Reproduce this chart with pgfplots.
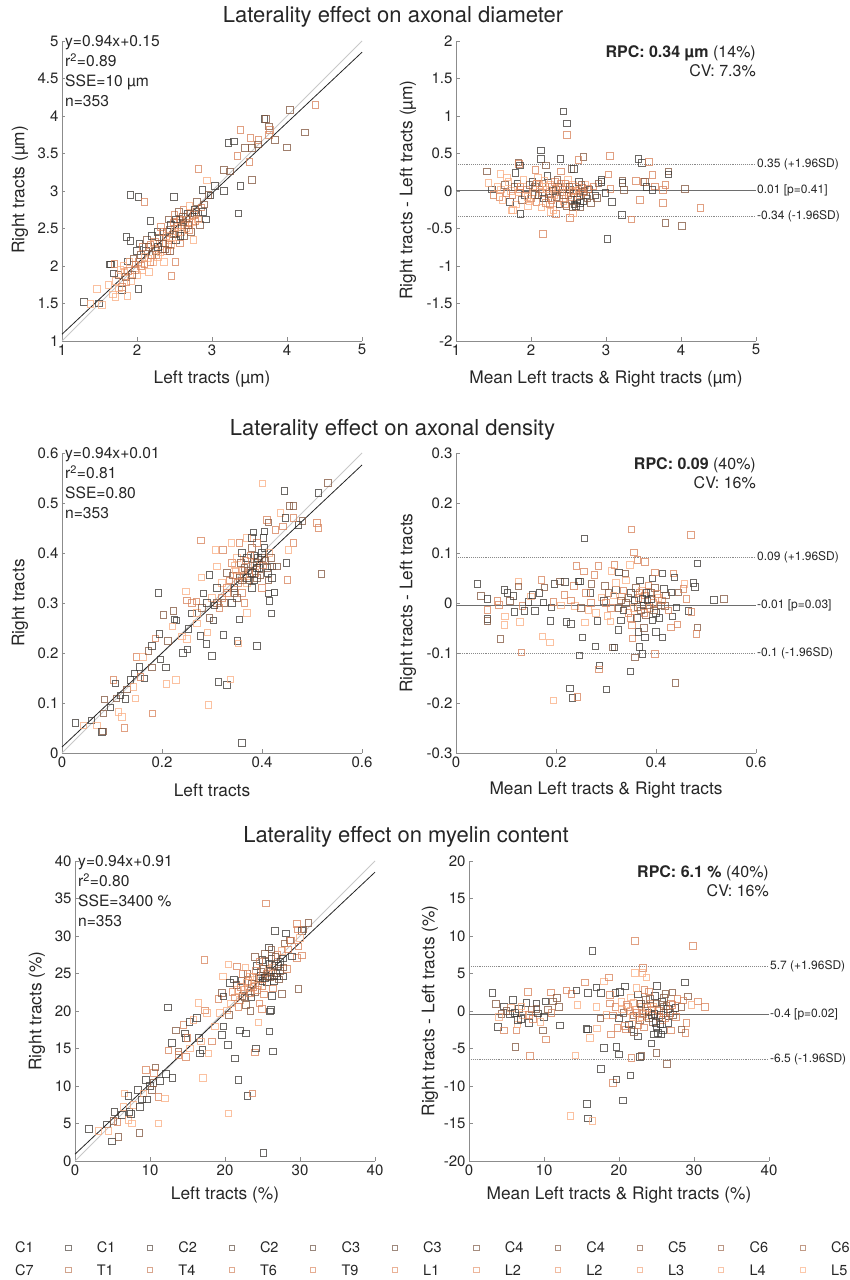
\documentclass[border=0pt]{standalone}
\usepackage{pgfplots}
\pgfplotsset{compat=1.18}
\usepackage{fontspec}
\setmainfont{TeX Gyre Heros}
\definecolor{axc}{HTML}{8C8C8C}
\definecolor{tkc}{HTML}{262626}
\definecolor{idl}{HTML}{C8C8C8}
\definecolor{bal}{HTML}{8A8A8A}
\definecolor{bam}{HTML}{6E6E6E}
\pgfplotsset{
  colormap={lat}{rgb255(0)=(58,54,50) rgb255(0.33)=(128,84,60) rgb255(0.7)=(215,128,88) rgb255(1)=(250,172,128)},
  panel/.style={
    scale only axis, width=300pt, height=300pt, anchor=south west,
    axis lines=left, axis line style={-, draw=axc, line width=0.7pt},
    tick align=inside, major tick length=3.5pt,
    every tick/.style={draw=axc, line width=0.7pt},
    ticklabel style={font=\fontsize{15}{15}\selectfont, text=tkc},
    /pgf/number format/assume math mode=true,
    clip=false,
  },
  pts/.style={scatter, only marks, mark=square, mark size=3.3pt,
    point meta=explicit, point meta min=0, point meta max=1,
    scatter/use mapped color={draw=mapped color, fill=none, draw opacity=0.75},
    mark options={line width=0.9pt}},
}
\tikzset{
  lefttxt/.style={anchor=north west, inner sep=0, align=left, text=tkc,
    font=\fontsize{15.6}{20}\selectfont, xshift=3pt, yshift=5.6pt},
  righttxt/.style={anchor=north east, inner sep=0, align=right, text=tkc,
    font=\fontsize{16}{19}\selectfont, yshift=-4.5pt},
  balab/.style={anchor=west, inner sep=1pt, text=tkc, font=\fontsize{12}{12}\selectfont},
}
\begin{document}
\begin{tikzpicture}
\path[use as bounding box] (0,0) rectangle (850pt,1280pt);

% ---------- row 1: axonal diameter ----------
\begin{axis}[panel, at={(62pt,939pt)}, xmin=1, xmax=5, ymin=1, ymax=5,
  xtick={1,2,3,4,5}, ytick={1,1.5,2,2.5,3,3.5,4,4.5,5}]
\addplot[pts] table[row sep=\\, meta=c] {x y c\\
1.29 1.52 0\\ 1.91 2.95 0\\ 2.02 2.92 0\\ 2.10 2.85 0.7\\ 1.86 2.39 0\\ 1.91 2.33 0\\
2.18 2.60 0\\ 1.87 2.06 0\\ 2.02 1.69 0\\ 2.46 1.87 0.7\\ 1.47 1.69 1\\ 1.38 1.49 1\\
1.49 1.50 0\\ 1.53 1.48 1\\ 1.64 2.02 0\\ 1.69 1.90 0\\ 1.80 1.68 0\\ 1.87 1.60 1\\
1.71 1.59 1\\ 2.82 3.29 0.7\\ 2.93 3.14 1\\ 3.04 3.07 0\\ 2.87 3.01 0\\ 2.98 2.94 0\\
2.49 2.92 0\\ 3.16 3.28 0.33\\ 3.24 3.26 0.33\\ 3.16 3.00 0\\ 3.22 3.64 0\\ 3.29 3.66 0\\
3.38 3.81 0.7\\ 3.34 3.47 0.7\\ 3.38 3.07 0\\ 3.35 2.70 0\\ 3.44 3.57 0.33\\ 3.51 3.71 0.7\\
3.50 3.39 0.7\\ 3.53 3.15 0.33\\ 3.53 3.57 0.33\\ 3.62 3.68 0.7\\ 3.61 3.62 0.33\\ 3.70 3.96 0\\
3.72 3.96 0.33\\ 3.76 3.86 0.33\\ 3.77 3.81 0.7\\ 3.76 3.75 0.7\\ 3.84 3.68 0.33\\ 4.00 3.58 0.33\\
4.04 4.08 0.33\\ 4.24 3.78 0.33\\ 4.38 4.15 0.7\\ 2.51 2.05 0.7\\
1.62 1.75 1\\ 1.65 2.02 0\\ 1.68 1.62 1\\ 1.70 2.03 0.7\\ 1.72 1.80 1\\ 1.75 1.88 0.33\\
1.78 1.95 1\\ 1.80 1.72 0.7\\ 1.82 2.00 1\\ 1.85 1.85 0.33\\ 1.88 1.93 0.7\\ 1.90 2.05 1\\
1.92 1.80 1\\ 1.95 2.10 0.33\\ 1.97 1.95 0.7\\ 2.00 2.20 0\\ 2.00 1.88 1\\ 2.02 2.05 0.7\\
2.03 2.30 0\\ 2.05 2.15 0.33\\ 2.07 1.95 1\\ 2.08 2.25 0.7\\ 2.10 2.02 0.7\\ 2.12 2.20 0\\
2.13 2.35 0.33\\ 2.15 2.10 1\\ 2.16 1.92 1\\ 2.18 2.28 0.7\\ 2.20 2.40 0\\ 2.20 2.15 0.33\\
2.22 2.05 1\\ 2.24 2.32 0.7\\ 2.25 2.20 0.33\\ 2.27 2.45 0\\ 2.28 2.12 1\\ 2.30 2.30 0.7\\
2.32 2.52 0.7\\ 2.33 2.22 0.33\\ 2.35 2.38 0\\ 2.36 2.05 1\\ 2.38 2.30 1\\ 2.40 2.45 0.33\\
2.40 2.20 0.7\\ 2.42 2.62 0.33\\ 2.43 2.35 0.7\\ 2.45 2.55 0\\ 2.46 2.28 1\\ 2.48 2.42 0.33\\
2.50 2.68 0.7\\ 2.50 2.50 1\\ 2.52 2.35 0\\ 2.53 2.58 0.33\\ 2.55 2.45 0.7\\ 2.56 2.72 0.33\\
2.57 2.30 0.7\\ 2.58 2.60 1\\ 2.60 2.52 0\\ 2.62 2.75 0.7\\ 2.63 2.40 0.33\\ 2.65 2.62 0.33\\
2.66 2.50 1\\ 2.68 2.70 0\\ 2.70 2.58 0.7\\ 2.70 2.80 1\\ 2.72 2.45 0.33\\ 2.74 2.66 0.33\\
2.75 2.35 1\\ 2.77 2.75 0\\ 2.78 2.60 0.7\\ 2.80 2.85 0.33\\ 2.82 2.70 0\\ 2.84 2.55 0.33\\
2.86 2.78 0.7\\ 2.88 2.72 0\\ 2.90 2.82 0.33\\ 2.92 2.62 0\\ 2.95 2.95 0.33\\
2.05 2.00 0.7\\ 2.10 2.12 1\\ 2.15 2.25 0.33\\ 2.18 2.05 0.7\\ 2.22 2.30 1\\ 2.26 2.15 0.7\\
2.29 2.38 0.33\\ 2.31 2.18 1\\ 2.34 2.45 0.7\\ 2.37 2.22 0.33\\ 2.39 2.40 1\\ 2.42 2.28 0.7\\
2.44 2.48 0.33\\ 2.47 2.38 1\\ 2.49 2.58 0.7\\ 2.51 2.42 0.33\\ 2.54 2.52 1\\ 2.57 2.62 0.7\\
2.59 2.45 1\\ 2.61 2.65 0.33\\ 2.64 2.55 0.7\\ 2.67 2.62 1\\ 2.69 2.48 0.7\\ 2.71 2.70 0.33\\
2.73 2.58 1\\ 2.76 2.68 0.7\\ 2.79 2.72 0.33\\ 2.81 2.62 1\\ 2.52 2.62 0\\ 2.58 2.40 0\\
2.44 2.20 0.33\\ 2.35 2.30 0.33\\ 2.28 2.25 0\\ 2.62 2.58 0.33\\ 2.68 2.55 0.33\\ 1.98 2.02 0.7\\
1.93 1.88 0.33\\ 1.86 1.78 0.7\\ 1.76 1.70 1\\ 1.83 1.92 1\\
};
\addplot[idl, line width=0.8pt] coordinates {(1,1) (5,5)};
\addplot[tkc, line width=0.8pt] coordinates {(1,1.09) (5,4.85)};
\node[lefttxt] at (rel axis cs:0,1) {y=0.94x+0.15\\r\textsuperscript{2}=0.89\\SSE=10 µm\\n=353};
\end{axis}

\begin{axis}[panel, at={(456pt,939pt)}, xmin=1, xmax=5, ymin=-2, ymax=2,
  xtick={1,2,3,4,5}, ytick={-2,-1.5,-1,-0.5,0,0.5,1,1.5,2}]
\addplot[pts] table[row sep=\\, meta=c] {x y c\\
2.43 1.06 0\\ 2.48 0.90 0\\ 2.48 0.75 0.7\\ 2.13 0.54 0\\ 2.13 0.43 0\\ 2.39 0.43 0\\
2.70 0.45 0.33\\ 2.63 0.41 0.7\\ 3.05 0.47 0.7\\ 3.43 0.43 0\\ 3.48 0.37 0\\ 3.57 0.39 0.7\\
1.83 0.38 0.33\\ 1.84 0.36 0.7\\ 1.85 0.34 0\\ 1.41 0.26 0.33\\ 1.59 0.23 1\\ 1.79 0.24 0\\
2.20 0.34 0.33\\ 2.54 0.29 0.33\\ 2.57 0.29 0\\ 2.40 0.26 0.7\\ 3.03 0.22 0.7\\ 2.94 0.15 0\\
2.94 0.12 0\\ 3.22 0.14 0.33\\ 3.22 0.11 0\\ 3.40 0.13 0.7\\ 3.50 0.12 0.7\\ 3.52 0.12 0.33\\
3.62 0.21 0.7\\ 3.65 0.06 0.7\\ 3.54 0.05 0\\ 3.62 0.01 0\\ 3.76 0.01 0.7\\ 3.79 0.08 0.7\\
3.83 0.26 0.33\\ 3.83 0.22 0\\ 4.05 0.03 0.33\\ 3.24 0.01 0.33\\ 3.06 0.03 0.7\\ 2.99 -0.03 0\\
3.08 -0.15 0\\ 2.88 -0.09 0.33\\ 3.21 -0.32 0\\ 3.34 -0.38 0.7\\ 3.45 -0.12 0.7\\ 3.76 -0.16 0.7\\
3.79 -0.43 0.33\\ 4.01 -0.47 0.33\\ 4.26 -0.23 0.7\\ 3.02 -0.64 0\\ 2.16 -0.57 0.7\\ 1.86 -0.31 0\\
2.33 -0.31 0.7\\ 2.52 -0.36 0.7\\ 2.56 -0.30 1\\ 1.74 -0.26 1\\ 1.48 0.02 0\\ 1.50 -0.05 0.7\\
1.43 0.11 1\\
1.55 0.05 1\\ 1.58 -0.08 0.7\\ 1.60 0.02 1\\ 1.62 -0.12 1\\ 1.65 0.08 0.33\\ 1.67 -0.03 0.7\\
1.70 0.12 1\\ 1.72 -0.15 0\\ 1.73 0.00 1\\ 1.75 -0.06 0.7\\ 1.78 0.05 0.33\\ 1.80 -0.18 1\\
1.82 0.10 0\\ 1.84 -0.02 1\\ 1.86 0.06 0.7\\ 1.88 -0.12 0.33\\ 1.90 0.15 1\\ 1.92 -0.05 0\\
1.94 0.02 0.7\\ 1.96 -0.20 1\\ 1.98 0.08 0.33\\ 2.00 -0.10 0.7\\ 2.02 0.12 0\\ 2.03 -0.02 1\\
2.05 0.05 0.33\\ 2.07 -0.15 0.7\\ 2.09 0.18 1\\ 2.10 -0.06 0\\ 2.12 0.02 0.7\\ 2.14 -0.22 1\\
2.15 0.10 0.33\\ 2.17 -0.10 0\\ 2.19 0.05 1\\ 2.20 -0.16 0.7\\ 2.22 0.20 0\\ 2.24 -0.04 0.33\\
2.25 0.08 1\\ 2.27 -0.12 0.7\\ 2.29 0.00 0\\ 2.30 -0.25 1\\ 2.32 0.12 0.7\\ 2.34 -0.08 0.33\\
2.36 0.04 1\\ 2.38 -0.18 0\\ 2.40 0.10 0.7\\ 2.41 -0.02 0.33\\ 2.43 -0.14 1\\ 2.45 0.06 0\\
2.47 -0.20 0.33\\ 2.49 0.15 1\\ 2.50 -0.06 0.7\\ 2.52 0.02 0\\ 2.54 -0.12 0.33\\ 2.56 0.08 1\\
2.58 -0.18 0\\ 2.60 0.00 0.7\\ 2.62 -0.08 0.33\\ 2.64 0.12 0\\ 2.66 -0.22 0.33\\ 2.68 0.04 0.7\\
2.70 -0.14 0\\ 2.72 0.08 1\\ 2.75 -0.10 0.33\\ 2.78 0.02 0\\ 2.80 -0.16 0.33\\ 2.83 0.06 0.7\\
2.86 -0.06 0\\ 2.90 0.10 0.33\\ 1.68 0.18 1\\ 1.76 -0.25 1\\ 2.06 0.28 0.7\\ 2.26 -0.28 1\\
1.85 0.02 0.7\\ 1.95 -0.08 1\\ 2.05 -0.05 0.33\\ 2.11 0.08 1\\ 2.16 -0.03 0.7\\ 2.21 0.02 1\\
2.23 -0.09 0.33\\ 2.28 0.05 0.7\\ 2.31 -0.05 1\\ 2.33 0.02 0.33\\ 2.37 -0.10 0.7\\ 2.39 0.06 1\\
2.42 0.02 0.7\\ 2.44 -0.06 0.33\\ 2.46 0.10 0.7\\ 2.48 -0.02 1\\ 2.51 0.05 0.33\\ 2.53 -0.08 0.7\\
2.55 0.00 1\\ 2.57 -0.03 0.33\\ 2.59 0.06 0.7\\ 2.61 -0.12 0\\ 2.63 0.02 1\\ 2.65 -0.05 0.7\\
2.67 0.08 0.33\\ 2.69 -0.02 0.7\\ 2.71 0.00 0.33\\ 2.73 -0.06 0\\ 2.76 0.03 0.7\\ 2.60 -0.20 0\\
2.65 -0.16 0\\ 2.55 -0.22 0.33\\ 2.45 -0.18 0.7\\ 2.35 0.15 0.33\\ 2.25 -0.18 0.7\\ 2.18 0.14 1\\
2.08 0.10 0.7\\ 1.98 -0.14 1\\
};
\addplot[bal, densely dotted, line width=0.9pt] coordinates {(1,0.35) (5,0.35)};
\addplot[bam, line width=0.9pt] coordinates {(1,0.01) (5,0.01)};
\addplot[bal, densely dotted, line width=0.9pt] coordinates {(1,-0.34) (5,-0.34)};
\node[balab] at (axis cs:5,0.35) {0.35 (+1.96SD)};
\node[balab] at (axis cs:5,0.01) {0.01 [p=0.41]};
\node[balab] at (axis cs:5,-0.34) {-0.34 (-1.96SD)};
\node[righttxt] at (rel axis cs:1,1) {\textbf{RPC: 0.34 µm} (14\%)\\CV: 7.3\%};
\end{axis}

% ---------- row 2: axonal density ----------
\begin{axis}[panel, at={(62pt,527pt)}, xmin=0, xmax=0.6, ymin=0, ymax=0.6,
  xtick={0,0.2,0.4,0.6}, ytick={0,0.1,0.2,0.3,0.4,0.5,0.6}]
\addplot[pts] table[row sep=\\, meta=c] {x y c\\
0.027 0.060 0\\ 0.043 0.055 1\\ 0.059 0.065 0\\ 0.070 0.055 1\\ 0.080 0.042 0\\ 0.082 0.043 0.33\\
0.083 0.079 0.33\\ 0.085 0.107 0.33\\ 0.097 0.091 0\\ 0.103 0.146 0.7\\ 0.107 0.139 0\\ 0.113 0.082 1\\
0.120 0.072 1\\ 0.125 0.050 0.7\\ 0.109 0.109 0.33\\ 0.117 0.115 0\\ 0.127 0.108 0\\ 0.130 0.127 0.33\\
0.137 0.146 0\\ 0.143 0.132 1\\ 0.147 0.109 1\\ 0.149 0.192 0.7\\ 0.145 0.159 0\\ 0.155 0.172 0\\
0.162 0.192 1\\ 0.165 0.149 0\\ 0.157 0.152 0.7\\ 0.173 0.204 0.33\\ 0.180 0.214 0\\ 0.181 0.079 0.7\\
0.180 0.171 0.33\\ 0.187 0.229 0.7\\ 0.193 0.320 0\\ 0.197 0.187 0\\ 0.195 0.238 0\\ 0.203 0.276 0.33\\
0.208 0.171 0\\ 0.209 0.138 1\\ 0.212 0.224 0.33\\ 0.228 0.146 1\\ 0.223 0.284 0.33\\ 0.225 0.267 0\\
0.229 0.265 0\\ 0.221 0.253 1\\ 0.240 0.233 1\\ 0.242 0.200 0\\ 0.250 0.228 1\\ 0.251 0.207 0\\
0.253 0.248 0\\ 0.248 0.323 1\\ 0.250 0.305 0.7\\ 0.260 0.279 0\\ 0.269 0.303 0.7\\ 0.270 0.259 1\\
0.277 0.234 0\\ 0.278 0.425 0.7\\ 0.279 0.351 1\\ 0.283 0.319 0\\ 0.291 0.241 1\\ 0.289 0.218 0\\
0.293 0.096 1\\ 0.295 0.356 0\\ 0.300 0.194 0\\ 0.303 0.265 0\\ 0.307 0.406 1\\ 0.310 0.373 1\\
0.313 0.142 0\\ 0.322 0.406 0.7\\ 0.323 0.236 0\\ 0.330 0.136 0\\ 0.337 0.147 1\\ 0.339 0.420 1\\
0.351 0.224 0\\ 0.353 0.219 1\\ 0.355 0.267 0\\ 0.360 0.020 0\\ 0.390 0.214 0\\ 0.401 0.539 1\\
0.445 0.524 0\\ 0.455 0.494 0.33\\ 0.463 0.494 0.33\\ 0.513 0.520 0\\ 0.532 0.540 0.33\\ 0.510 0.460 0.7\\
0.513 0.450 0.7\\ 0.519 0.358 0.33\\ 0.481 0.464 0.33\\ 0.473 0.456 0\\ 0.463 0.470 0.7\\ 0.451 0.346 0.7\\
0.449 0.380 0\\ 0.463 0.420 0.7\\ 0.453 0.406 1\\ 0.413 0.319 0\\ 0.415 0.304 0\\ 0.419 0.279 0\\
0.425 0.321 0\\ 0.410 0.466 0.7\\ 0.413 0.461 0.33\\ 0.427 0.446 0.7\\ 0.442 0.453 0.7\\ 0.437 0.480 1\\
0.447 0.470 0\\ 0.405 0.443 0\\ 0.403 0.430 0\\ 0.383 0.441 0\\ 0.370 0.430 1\\ 0.413 0.345 0.33\\
0.420 0.373 0\\ 0.430 0.373 0.33\\
0.33 0.36 0.33\\ 0.34 0.38 0.7\\ 0.345 0.33 0\\ 0.35 0.39 1\\ 0.355 0.35 0.33\\ 0.36 0.40 0\\
0.36 0.32 0.7\\ 0.365 0.37 0.33\\ 0.37 0.34 1\\ 0.37 0.39 0\\ 0.375 0.36 0.7\\ 0.38 0.41 0.33\\
0.38 0.33 0\\ 0.385 0.38 1\\ 0.39 0.35 0.33\\ 0.39 0.42 0.7\\ 0.395 0.37 0\\ 0.40 0.39 0.33\\
0.40 0.33 0.7\\ 0.405 0.41 0\\ 0.41 0.37 0.33\\ 0.415 0.40 1\\ 0.42 0.35 0\\ 0.35 0.31 0.33\\
0.34 0.30 0\\ 0.33 0.32 0.7\\ 0.32 0.34 1\\ 0.325 0.30 0.33\\ 0.31 0.33 0\\ 0.315 0.29 0.7\\
0.30 0.31 1\\ 0.295 0.27 0.33\\ 0.305 0.295 0\\ 0.36 0.365 0.7\\ 0.375 0.345 0.33\\ 0.385 0.395 0\\
0.345 0.375 1\\ 0.355 0.42 0.7\\ 0.39 0.38 0.33\\ 0.365 0.30 0.7\\ 0.38 0.43 0\\ 0.37 0.28 1\\
0.26 0.30 0.7\\ 0.27 0.28 1\\ 0.28 0.29 0.33\\ 0.29 0.30 0\\
0.335 0.345 0.7\\ 0.342 0.355 0.33\\ 0.348 0.365 1\\ 0.352 0.34 0.7\\ 0.358 0.38 0.33\\ 0.363 0.355 1\\
0.367 0.385 0.7\\ 0.372 0.365 0.33\\ 0.377 0.395 0.7\\ 0.382 0.375 0.33\\ 0.387 0.36 0.7\\ 0.392 0.39 0\\
0.397 0.355 0.33\\ 0.402 0.375 0.7\\ 0.407 0.385 0.33\\ 0.412 0.36 0\\ 0.418 0.39 0.33\\ 0.37 0.35 0\\
0.38 0.36 0\\ 0.39 0.37 0\\ 0.36 0.345 0.33\\ 0.35 0.355 0.7\\ 0.345 0.32 0.33\\ 0.33 0.33 0.7\\
0.32 0.31 0.7\\ 0.31 0.30 0.33\\ 0.40 0.40 0\\ 0.385 0.345 0\\
};
\addplot[idl, line width=0.8pt] coordinates {(0,0) (0.6,0.6)};
\addplot[tkc, line width=0.8pt] coordinates {(0,0.012) (0.6,0.576)};
\node[lefttxt] at (rel axis cs:0,1) {y=0.94x+0.01\\r\textsuperscript{2}=0.81\\SSE=0.80\\n=353};
\end{axis}

\begin{axis}[panel, at={(456pt,527pt)}, xmin=0, xmax=0.6, ymin=-0.3, ymax=0.3,
  xtick={0,0.2,0.4,0.6}, ytick={-0.3,-0.2,-0.1,0,0.1,0.2,0.3}]
\addplot[pts] table[row sep=\\, meta=c] {x y c\\
0.043 0.038 0\\ 0.050 0.014 0.33\\ 0.063 0.008 0\\ 0.063 -0.014 0.7\\ 0.063 -0.032 0\\ 0.063 -0.036 0.33\\
0.083 0.004 0.7\\ 0.086 -0.004 0.7\\ 0.089 -0.072 0.33\\ 0.097 0.026 0\\ 0.098 -0.027 1\\ 0.097 -0.044 1\\
0.103 0.020 0\\ 0.108 0.004 0.33\\ 0.115 0.014 0\\ 0.117 -0.018 0\\ 0.125 0.043 1\\ 0.125 0.033 0.33\\
0.128 -0.038 1\\ 0.131 -0.099 0.7\\ 0.133 -0.006 0.7\\ 0.137 -0.016 0\\ 0.145 0.002 0\\ 0.150 0.013 1\\
0.153 0.016 0\\ 0.158 -0.016 0\\ 0.167 0.020 0\\ 0.171 0.046 0.7\\ 0.173 -0.067 1\\ 0.175 0.001 0\\
0.177 0.031 0.33\\ 0.188 -0.079 1\\ 0.189 -0.036 0\\ 0.191 -0.009 0\\ 0.195 0.002 0.7\\ 0.197 0.038 0\\
0.195 -0.195 1\\ 0.208 0.043 0.33\\ 0.218 0.042 0\\ 0.217 0.016 0.7\\ 0.221 -0.038 0\\ 0.230 -0.042 0\\
0.228 -0.171 0\\ 0.233 -0.190 0\\ 0.241 0.074 0.7\\ 0.236 0.034 0.7\\ 0.238 -0.006 1\\ 0.245 0.043 0\\
0.248 0.043 0\\ 0.243 -0.188 0.7\\ 0.247 -0.105 0\\ 0.253 -0.069 0\\ 0.256 0.063 0.7\\ 0.257 0.129 0\\
0.258 -0.039 1\\ 0.265 -0.014 1\\ 0.269 0.020 0\\ 0.271 0.038 0.33\\ 0.277 0.056 0.7\\ 0.279 -0.087 0\\
0.283 -0.036 0\\ 0.285 0.074 0.7\\ 0.287 -0.125 0\\ 0.286 -0.133 0.7\\ 0.291 0.011 1\\ 0.296 0.004 0\\
0.298 0.034 0.33\\ 0.301 -0.173 0\\ 0.303 -0.026 1\\ 0.309 -0.037 1\\ 0.311 0.064 1\\ 0.313 -0.089 0.33\\
0.317 -0.089 0\\ 0.317 0.076 0.7\\ 0.320 0.026 0\\ 0.326 0.061 0\\ 0.325 -0.054 0\\ 0.331 0.013 1\\
0.339 0.059 0.33\\ 0.348 0.076 1\\ 0.349 -0.137 0\\ 0.351 0.147 0.7\\ 0.353 -0.071 0.7\\ 0.356 0.101 0.7\\
0.358 -0.109 0.33\\ 0.363 0.086 0.7\\ 0.365 -0.058 0\\ 0.367 -0.088 0\\ 0.373 -0.102 0\\ 0.378 0.082 0.7\\
0.378 -0.069 0\\ 0.393 0.049 0\\ 0.398 0.061 0.7\\ 0.398 -0.102 0.7\\ 0.400 -0.058 0\\ 0.413 0.059 0\\
0.413 -0.069 0\\ 0.416 0.028 0\\ 0.418 -0.006 0.33\\ 0.430 -0.049 0.7\\ 0.433 -0.027 0\\ 0.435 0.059 0.7\\
0.437 0.051 0\\ 0.439 -0.160 0.33\\ 0.443 -0.043 0.7\\ 0.441 -0.009 0\\ 0.445 0.021 0.33\\ 0.457 0.038 1\\
0.461 0.008 0.7\\ 0.465 -0.016 0\\ 0.470 0.136 0.7\\ 0.471 -0.018 0.7\\ 0.475 0.040 0\\ 0.478 0.032 0\\
0.483 0.079 0\\ 0.483 -0.049 0.33\\ 0.481 -0.062 0.7\\ 0.516 0.006 0\\ 0.536 0.008 0.33\\ 0.455 0.028 0.7\\
0.431 0.021 0\\
0.34 0.00 0.33\\ 0.345 -0.02 0.7\\ 0.35 0.02 0\\ 0.355 -0.01 1\\ 0.36 0.03 0.33\\ 0.362 -0.03 0\\
0.365 0.01 0.7\\ 0.37 -0.015 0.33\\ 0.372 0.025 1\\ 0.375 -0.005 0\\ 0.378 0.015 0.7\\ 0.38 -0.025 0.33\\
0.383 0.005 0\\ 0.385 0.035 0.7\\ 0.388 -0.01 1\\ 0.39 0.02 0.33\\ 0.393 -0.035 0\\ 0.395 0.00 0.7\\
0.398 0.03 0.33\\ 0.40 -0.02 0\\ 0.405 0.01 1\\ 0.41 -0.005 0.33\\ 0.335 0.025 0.7\\ 0.33 -0.035 0\\
0.325 -0.01 0.33\\ 0.34 0.045 1\\ 0.352 -0.045 0.7\\ 0.368 0.045 0\\ 0.376 -0.05 0.33\\ 0.32 0.04 1\\
0.30 0.00 0.7\\ 0.305 0.02 0.33\\ 0.31 -0.01 0.7\\ 0.315 0.015 1\\ 0.33 0.005 0.33\\ 0.335 -0.015 0\\
0.345 0.01 0.33\\ 0.35 -0.03 0.7\\ 0.357 0.005 0\\ 0.363 -0.008 0.33\\ 0.367 0.02 0.7\\ 0.373 0.008 0\\
0.377 -0.02 0.7\\ 0.381 0.02 0\\ 0.386 -0.005 0.33\\ 0.391 0.008 0\\ 0.396 -0.015 0.33\\ 0.402 0.018 0.7\\
0.407 -0.03 0\\ 0.412 0.005 0.7\\ 0.42 0.015 0.33\\ 0.425 -0.015 0.7\\ 0.27 0.00 0.7\\ 0.28 -0.02 1\\
0.26 0.02 0.7\\ 0.25 -0.01 0.33\\ 0.23 0.005 0.7\\ 0.21 -0.005 1\\
};
\addplot[bal, densely dotted, line width=0.9pt] coordinates {(0,0.092) (0.6,0.092)};
\addplot[bam, line width=0.9pt] coordinates {(0,-0.004) (0.6,-0.004)};
\addplot[bal, densely dotted, line width=0.9pt] coordinates {(0,-0.100) (0.6,-0.100)};
\node[balab] at (axis cs:0.6,0.092) {0.09 (+1.96SD)};
\node[balab] at (axis cs:0.6,-0.004) {-0.01 [p=0.03]};
\node[balab] at (axis cs:0.6,-0.100) {-0.1 (-1.96SD)};
\node[righttxt] at (rel axis cs:1,1) {\textbf{RPC: 0.09} (40\%)\\CV: 16\%};
\end{axis}

% ---------- row 3: myelin content ----------
\begin{axis}[panel, at={(75pt,119pt)}, xmin=0, xmax=40, ymin=0, ymax=40,
  xtick={0,10,20,30,40}, ytick={0,5,10,15,20,25,30,35,40}]
\addplot[pts] table[row sep=\\, meta=c] {x y c\\
1.87 4.24 0\\ 3.11 3.97 1\\ 4.22 4.86 0\\ 4.44 3.97 1\\ 4.89 2.63 0\\ 5.11 5.31 0.33\\
5.24 6.56 0\\ 5.64 5.22 0.7\\ 5.78 3.21 0.33\\ 6.22 6.11 0\\ 6.44 7.22 1\\ 6.58 9.01 1\\
7.11 8.65 0\\ 7.24 6.56 0\\ 7.11 5.44 1\\ 7.47 6.24 0\\ 7.56 4.99 1\\ 7.78 7.45 1\\
8.36 9.45 0\\ 8.58 3.75 0.33\\ 8.67 7.22 0\\ 8.89 8.20 0\\ 9.11 9.01 1\\ 9.47 10.79 0\\
9.47 12.13 0.7\\ 9.56 8.20 0\\ 10.00 9.99 0\\ 10.22 9.45 0.33\\ 10.44 10.43 0.33\\ 10.53 11.77 0.7\\
10.71 12.49 0.33\\ 11.11 8.56 0.7\\ 11.11 4.99 1\\ 11.33 10.70 0\\ 12.00 8.34 1\\ 12.13 11.59 0\\
12.36 20.47 0\\ 12.44 14.72 0.7\\ 12.89 15.70 0\\ 12.98 11.10 0\\ 13.42 17.39 0.33\\ 13.78 14.58 0.33\\
13.78 14.14 0.7\\ 14.67 17.03 0\\ 14.44 18.15 0.7\\ 14.76 16.37 0\\ 14.80 13.91 0.7\\ 14.98 16.37 0.7\\
15.24 18.51 0\\ 15.33 15.03 1\\ 15.78 18.82 1\\ 16.22 19.04 0\\ 16.44 21.05 1\\ 16.53 16.37 0\\
16.67 14.36 0\\ 16.80 15.92 1\\ 16.98 14.80 0\\ 17.02 11.10 1\\ 17.24 26.84 0.7\\ 17.33 20.07 0.7\\
17.56 19.71 1\\ 17.78 14.36 1\\ 18.22 15.92 0.7\\ 18.67 17.93 1\\ 19.11 21.58 0.7\\ 19.33 19.71 1\\
19.56 16.81 0\\ 19.78 17.93 0\\ 20.22 20.07 1\\ 20.36 15.47 0\\ 20.44 6.33 1\\ 19.69 24.61 1\\
19.56 22.39 0.33\\ 19.78 21.94 0\\ 20.44 26.18 1\\ 20.67 23.72 0\\ 21.33 13.69 0\\ 21.56 25.95 0.7\\
21.78 10.79 0\\ 22.00 17.39 0\\ 22.80 17.03 0\\ 22.98 8.65 0\\ 23.64 9.01 0.7\\ 24.00 14.45 0.7\\
24.13 15.03 0\\ 24.44 18.46 1\\ 25.11 1.07 0\\ 25.42 34.34 0.7\\ 25.91 17.26 0\\ 26.36 14.58 0\\
26.00 19.93 0\\ 26.09 20.16 0\\ 26.22 22.03 0\\ 26.67 30.64 0\\ 28.13 30.32 0\\ 29.56 31.62 0.7\\
29.78 22.92 0.33\\ 30.22 30.64 0\\ 30.44 30.86 0.33\\ 31.11 31.75 0.33\\ 29.69 30.86 0.7\\ 29.56 27.07 0.7\\
30.22 27.38 0.7\\ 29.78 28.63 0.7\\ 30.00 29.74 1\\ 28.67 29.43 0.33\\ 28.22 25.60 0.7\\ 27.56 22.30 0.33\\
27.78 24.61 0\\ 26.89 24.61 0\\ 26.53 23.95 0\\ 28.89 27.29 0\\ 25.87 28.49 0\\
21.0 22.5 0.7\\ 21.5 23.5 0.33\\ 22.0 21.5 1\\ 22.2 24.0 0\\ 22.5 22.8 0.7\\ 22.8 20.8 0.33\\
23.0 25.0 0.33\\ 23.2 23.0 1\\ 23.5 21.8 0\\ 23.7 24.5 0.7\\ 24.0 22.5 0.33\\ 24.2 26.0 0\\
24.4 23.5 1\\ 24.6 21.0 0.7\\ 24.8 25.2 0.33\\ 25.0 24.0 0\\ 25.2 22.2 0.7\\ 25.4 26.5 0.33\\
25.6 23.8 0\\ 25.8 25.5 1\\ 26.0 24.5 0.33\\ 26.2 27.0 0\\ 26.4 23.0 0.7\\ 26.6 26.0 0.33\\
26.8 25.0 0\\ 27.0 27.5 0.7\\ 27.2 24.2 0.33\\ 27.4 26.5 0\\ 27.6 28.0 1\\ 27.8 25.8 0.33\\
22.3 22.0 0.33\\ 23.8 23.2 0.7\\ 24.7 24.7 0\\ 25.5 25.0 0.7\\ 24.0 27.2 0.33\\ 25.0 26.8 0\\
21.8 20.5 0.7\\ 20.8 21.0 1\\ 21.2 24.2 0\\ 22.7 25.8 1\\ 23.4 20.0 0.33\\ 24.9 20.3 0.7\\
26.3 25.8 1\\ 23.1 24.0 0.7\\ 20.5 19.5 0.33\\
21.3 21.8 0.7\\ 21.7 22.8 1\\ 22.1 23.2 0.7\\ 22.6 21.8 0.33\\ 22.9 23.8 1\\ 23.3 22.4 0.7\\
23.6 23.6 0.33\\ 23.9 24.2 1\\ 24.3 22.8 0.7\\ 24.5 24.4 0.33\\ 24.9 23.3 0.7\\ 25.1 25.6 0.33\\
25.3 24.4 0\\ 25.7 24.6 0.33\\ 25.9 26.3 0\\ 26.1 25.2 0.33\\ 26.5 24.6 0\\ 26.7 27.2 0.33\\
27.1 26.0 0\\ 27.3 25.3 0.33\\ 27.7 27.0 0\\ 24.1 25.3 0.7\\ 23.3 24.6 1\\ 22.4 24.9 0.7\\
24.6 26.6 0.7\\ 25.3 27.6 0.33\\ 26.2 28.2 0.33\\ 27.9 29.0 0.33\\ 28.4 28.2 0.7\\ 28.8 29.4 0.7\\
};
\addplot[idl, line width=0.8pt] coordinates {(0,0) (40,40)};
\addplot[tkc, line width=0.8pt] coordinates {(0,0.91) (40,38.51)};
\node[lefttxt] at (rel axis cs:0,1) {y=0.94x+0.91\\r\textsuperscript{2}=0.80\\SSE=3400 \%\\n=353};
\end{axis}

\begin{axis}[panel, at={(469pt,119pt)}, xmin=0, xmax=40, ymin=-20, ymax=20,
  xtick={0,10,20,30,40}, ytick={-20,-15,-10,-5,0,5,10,15,20}]
\addplot[pts] table[row sep=\\, meta=c] {x y c\\
3.11 2.39 0\\ 3.56 0.93 0.33\\ 3.87 -2.13 0\\ 4.31 -0.40 0.33\\ 4.62 -2.57 0.7\\ 4.62 0.62 0\\
5.42 -0.40 0\\ 5.56 0.40 1\\ 5.87 1.51 0\\ 6.18 -4.79 0.33\\ 6.09 -0.27 0\\ 6.31 -2.57 0.7\\
6.44 -1.82 1\\ 6.67 0.27 0\\ 6.89 -1.06 0\\ 7.20 -0.49 1\\ 7.64 1.06 0\\ 7.87 2.53 0.7\\
7.96 -1.60 0\\ 8.13 -6.03 0.7\\ 8.31 0.18 0.33\\ 8.53 -1.06 0.7\\ 8.98 0.98 0\\ 9.20 -0.35 0\\
9.87 -2.57 0.33\\ 10.00 -0.80 0\\ 10.18 1.29 0\\ 10.22 -3.81 0.7\\ 10.53 0.18 0.33\\ 10.89 2.48 0.7\\
11.20 1.29 0.33\\ 11.73 1.73 0.33\\ 12.09 -1.91 0\\ 12.98 2.75 0.7\\ 13.51 -14.01 1\\ 13.64 2.31 0.7\\
14.18 -5.94 1\\ 14.31 2.75 0\\ 14.44 0.84 1\\ 15.64 -2.39 0\\ 15.87 -2.48 0\\ 15.73 -12.37 0\\
15.87 -14.32 0\\ 16.44 -14.68 1\\ 15.42 3.81 0.7\\ 15.87 2.39 0\\ 16.44 8.03 0\\ 16.98 3.15 0\\
17.07 -2.35 1\\ 16.09 -3.59 1\\ 17.56 2.39 0\\ 17.56 -7.72 0\\ 17.96 -4.92 0\\ 17.96 3.95 1\\
18.67 4.48 0.7\\ 18.89 -3.15 0.7\\ 19.20 -9.58 0.7\\ 19.64 -9.14 0\\ 19.64 -4.79 0\\ 19.96 -5.81 0\\
20.53 -11.93 0\\ 21.51 -8.60 0\\ 21.64 -6.25 0.7\\ 22.09 9.36 0.7\\ 22.76 -6.12 0\\ 22.98 -6.03 0.33\\
23.20 5.72 0.7\\ 23.11 5.06 1\\ 22.09 5.06 1\\ 23.64 4.48 1\\ 25.07 3.37 0\\ 24.98 -5.59 0.33\\
26.40 -7.05 0.33\\ 27.11 2.48 0.33\\ 28.76 3.81 0\\ 29.87 8.69 0.7\\ 30.53 1.29 0.7\\ 31.42 0.53 0.7\\
29.20 1.95 0.33\\ 29.64 0.84 1\\ 28.98 -1.60 0.7\\ 28.84 -2.93 0.7\\ 28.31 -2.48 0.33\\ 26.89 -2.57 0.7\\
25.87 -2.57 0\\ 25.64 -3.15 0\\ 25.20 -2.93 0\\ 24.67 -3.15 0\\ 24.31 -4.35 0\\ 23.64 -0.71 1\\
22.53 -3.37 0\\ 21.64 -2.48 0\\ 20.89 -2.48 0.7\\ 20.76 3.28 0\\ 20.09 2.53 0\\ 19.51 2.39 0\\
18.76 2.17 0.7\\
19.5 0.5 0.7\\ 20.0 -1.0 0\\ 20.3 1.2 1\\ 20.6 -0.3 0.33\\ 21.0 0.8 0.7\\ 21.3 -1.8 0\\
21.6 1.8 1\\ 21.9 -0.6 0.33\\ 22.2 0.2 0.7\\ 22.5 2.2 0\\ 22.8 -1.2 0.33\\ 23.0 0.6 1\\
23.3 -2.2 0.7\\ 23.6 1.5 0.33\\ 23.9 -0.2 0\\ 24.2 0.9 0.7\\ 24.5 -1.5 0.33\\ 24.8 2.0 0\\
25.1 0.3 1\\ 25.4 -0.8 0.33\\ 25.7 1.2 0\\ 26.0 -0.3 0.7\\ 26.3 0.7 0.33\\ 26.6 -1.6 0\\
26.9 1.0 0.7\\ 27.2 -0.5 0.33\\ 27.5 0.4 0\\ 27.8 1.6 0.7\\ 22.0 -2.8 0.33\\ 24.0 2.6 0.7\\
25.0 -2.2 0\\ 23.5 0.0 0.33\\ 24.6 0.5 1\\ 21.5 0.0 1\\ 20.8 -2.0 0.7\\ 22.7 1.0 0\\
26.2 2.3 0.33\\ 25.8 -1.2 0.7\\ 24.3 -0.5 0\\ 23.0 -0.8 1\\ 19.8 -2.3 0.7\\ 18.3 -0.5 1\\
18.8 1.0 0.7\\ 17.5 -1.0 0.33\\ 17.0 0.5 1\\
4.0 -0.8 1\\ 5.0 0.0 0.33\\ 6.5 -1.2 0\\ 7.0 0.6 1\\ 8.0 -0.5 0.7\\ 9.0 0.3 0.33\\
9.5 -1.5 1\\ 11.0 -0.3 0.7\\ 12.0 0.5 0.33\\
21.2 0.5 0.7\\ 21.8 -0.8 1\\ 22.4 -0.3 0.7\\ 22.9 0.9 0.33\\ 23.2 -0.4 0.7\\ 23.7 0.4 1\\
24.0 -0.9 0.33\\ 24.4 0.2 0.7\\ 24.7 -0.4 0\\ 25.0 1.0 0.33\\ 25.3 0.0 0.7\\ 25.6 -0.5 0\\
25.9 0.6 0.33\\ 26.2 -0.9 0.7\\ 26.5 0.3 0\\ 26.8 -0.3 0.33\\ 27.1 0.8 0.7\\ 24.1 1.6 0.33\\
23.4 2.8 0.7\\ 22.3 3.1 1\\ 21.9 1.1 1\\ 22.6 -1.9 0.7\\ 24.9 -1.6 0\\ 25.5 -1.8 0\\
26.0 1.7 0.33\\ 27.6 -0.8 0.7\\ 28.3 0.5 0.33\\ 28.6 1.4 0.7\\ 20.4 0.2 1\\ 19.2 -0.6 0.7\\
};
\addplot[bal, densely dotted, line width=0.9pt] coordinates {(0,5.9) (40,5.9)};
\addplot[bam, line width=0.9pt] coordinates {(0,-0.4) (40,-0.4)};
\addplot[bal, densely dotted, line width=0.9pt] coordinates {(0,-6.5) (40,-6.5)};
\node[balab] at (axis cs:40,5.9) {5.7 (+1.96SD)};
\node[balab] at (axis cs:40,-0.4) {-0.4 [p=0.02]};
\node[balab] at (axis cs:40,-6.5) {-6.5 (-1.96SD)};
\node[righttxt] at (rel axis cs:1,1) {\textbf{RPC: 6.1 \%} (40\%)\\CV: 16\%};
\end{axis}

% ---------- legend strip ----------
\begin{axis}[scale only axis, width=850pt, height=45pt, anchor=south west, at={(0pt,0pt)},
  xmin=0, xmax=850, ymin=0, ymax=45, hide axis, clip=false]
\addplot[scatter, only marks, mark=square, mark size=2.6pt, point meta=explicit,
  point meta min=0, point meta max=1,
  scatter/use mapped color={draw=mapped color, fill=none, draw opacity=0.65},
  mark options={line width=0.8pt}] table[row sep=\\, meta=c] {x y c\\
68.3 32.3 0.048\\ 149.9 32.3 0.095\\ 231.5 32.3 0.143\\ 313.1 32.3 0.190\\ 394.7 32.3 0.238\\
476.3 32.3 0.286\\ 557.9 32.3 0.333\\ 639.5 32.3 0.381\\ 721.1 32.3 0.429\\ 802.7 32.3 0.476\\
68.3 10 0.571\\ 149.9 10 0.619\\ 231.5 10 0.667\\ 313.1 10 0.714\\ 394.7 10 0.762\\
476.3 10 0.810\\ 557.9 10 0.857\\ 639.5 10 0.905\\ 721.1 10 0.952\\ 802.7 10 1.0\\
};
\end{axis}

\foreach \t [count=\i from 0] in {C1,C1,C2,C2,C3,C3,C4,C4,C5,C6,C6}
  \node[anchor=west, inner sep=0, text=tkc, font=\fontsize{14.5}{15}\selectfont] at ({15pt+81.6pt*\i}, 32.3pt) {\t};
\foreach \t [count=\i from 0] in {C7,T1,T4,T6,T9,L1,L2,L2,L3,L4,L5}
  \node[anchor=west, inner sep=0, text=tkc, font=\fontsize{14.5}{15}\selectfont] at ({15pt+81.6pt*\i}, 10pt) {\t};

% ---------- titles and axis labels ----------
\begin{scope}[every node/.style={text=tkc}]
\node[font=\fontsize{22}{23}\selectfont] at (393pt,1263pt) {Laterality effect on axonal diameter};
\node[font=\fontsize{22}{23}\selectfont] at (392.5pt,850pt) {Laterality effect on axonal density};
\node[font=\fontsize{22}{23}\selectfont] at (406pt,443pt) {Laterality effect on myelin content};

\node[font=\fontsize{17.3}{18}\selectfont] at (212pt,901pt) {Left tracts (µm)};
\node[font=\fontsize{17.3}{18}\selectfont] at (606pt,901pt) {Mean Left tracts \& Right tracts (µm)};
\node[font=\fontsize{17.3}{18}\selectfont, rotate=90] at (20pt,1090pt) {Right tracts (µm)};
\node[font=\fontsize{17.3}{18}\selectfont, rotate=90] at (408pt,1090pt) {Right tracts - Left tracts (µm)};

\node[font=\fontsize{17.3}{18}\selectfont] at (212pt,490pt) {Left tracts};
\node[font=\fontsize{17.3}{18}\selectfont] at (606pt,490pt) {Mean Left tracts \& Right tracts};
\node[font=\fontsize{17.3}{18}\selectfont, rotate=90] at (20pt,677pt) {Right tracts};
\node[font=\fontsize{17.3}{18}\selectfont, rotate=90] at (408pt,677pt) {Right tracts - Left tracts};

\node[font=\fontsize{17.3}{18}\selectfont] at (225pt,85pt) {Left tracts (\%)};
\node[font=\fontsize{17.3}{18}\selectfont] at (619pt,85pt) {Mean Left tracts \& Right tracts (\%)};
\node[font=\fontsize{17.3}{18}\selectfont, rotate=90] at (37pt,269pt) {Right tracts (\%)};
\node[font=\fontsize{17.3}{18}\selectfont, rotate=90] at (430pt,269pt) {Right tracts - Left tracts (\%)};
\end{scope}
\end{tikzpicture}
\end{document}
